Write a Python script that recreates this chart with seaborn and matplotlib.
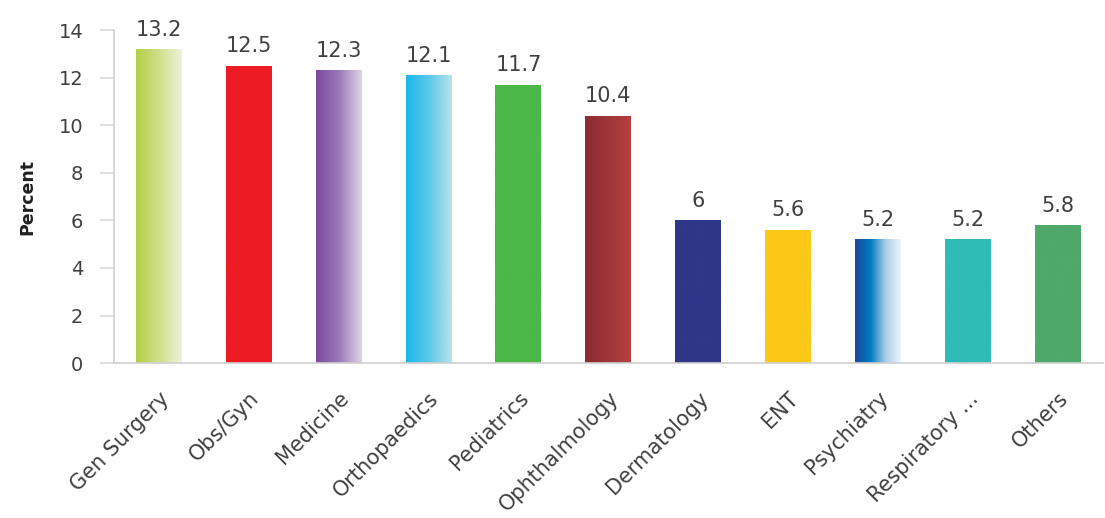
import numpy as np
import pandas as pd
import matplotlib
matplotlib.use("Agg")
import matplotlib.pyplot as plt
from matplotlib.colors import LinearSegmentedColormap, to_rgb
import seaborn as sns

categories = ["Gen Surgery", "Obs/Gyn", "Medicine", "Orthopaedics", "Pediatrics",
              "Ophthalmology", "Dermatology", "ENT", "Psychiatry", "Respiratory ...", "Others"]
values = [13.2, 12.5, 12.3, 12.1, 11.7, 10.4, 6, 5.6, 5.2, 5.2, 5.8]
value_labels = ["13.2", "12.5", "12.3", "12.1", "11.7", "10.4", "6", "5.6", "5.2", "5.2", "5.8"]
yticks = [0, 2, 4, 6, 8, 10, 12, 14]

# left-to-right colour stops for each bar fill
fills = [
    ["#b3cf45", "#cfe08a", "#eef2dc"],
    ["#ed1c24", "#ed1c24"],
    ["#7a4a9e", "#9b79b8", "#ddd5e8"],
    ["#19b8ec", "#5cc9ea", "#b8e2ea"],
    ["#4cb848", "#4cb848"],
    ["#8a2d31", "#b53f3f"],
    ["#2e3788", "#2e3788"],
    ["#fdc917", "#fdc917"],
    ["#1a4a9c", "#0079c1", "#a9cde8", "#f0f5fa"],
    ["#2fbcb8", "#2fbcb8"],
    ["#4ea96a", "#4ea96a"],
]

sns.set_theme(style="white")
plt.rcParams["font.family"] = ["DejaVu Sans"]

df = pd.DataFrame({"Department": categories, "Percent": values})
fig = plt.figure(figsize=(11.05, 5.18), dpi=100)
ax = fig.add_axes([0.103, 0.299, 0.895, 0.643])

palette = {c: f[0] for c, f in zip(categories, fills)}
sns.barplot(data=df, x="Department", y="Percent", hue="Department", palette=palette,
            width=0.51, legend=False, ax=ax, saturation=1)

# gradient fills clipped to each bar
for patch, stops in zip(ax.patches, fills):
    x0, y0 = patch.get_x(), patch.get_y()
    w, h = patch.get_width(), patch.get_height()
    cmap = LinearSegmentedColormap.from_list("g", [to_rgb(c) for c in stops])
    grad = np.linspace(0, 1, 256).reshape(1, -1)
    im = ax.imshow(grad, cmap=cmap, aspect="auto", extent=[x0, x0 + w, y0, y0 + h],
                   zorder=patch.get_zorder() + 0.1, interpolation="bilinear")
    im.set_clip_path(patch)

for i, (v, lab) in enumerate(zip(values, value_labels)):
    ax.text(i, v + 0.4, lab, ha="center", va="bottom", fontsize=15, color="#404040")

ax.set_xlim(-0.5, len(categories) - 0.5)
ax.set_ylim(0, 14)
ax.set_yticks(yticks)
ax.set_yticklabels([str(t) for t in yticks], fontsize=14, color="#404040")
ax.set_xticks(range(len(categories)))
ax.set_xticklabels(categories, rotation=45, ha="right", rotation_mode="anchor",
                   fontsize=15, color="#404040")
ax.set_xlabel("")
ax.set_ylabel("Percent", fontsize=12.5, fontweight="bold", color="#202020", labelpad=16)

for side in ["top", "right"]:
    ax.spines[side].set_visible(False)
for side in ["left", "bottom"]:
    ax.spines[side].set_color("#d0d0d0")
    ax.spines[side].set_linewidth(1.2)
ax.tick_params(axis="y", which="both", left=True, length=10, color="#dcdcdc", pad=12)
ax.tick_params(axis="x", bottom=False, pad=12)

fig.savefig("out.png", dpi=100)
